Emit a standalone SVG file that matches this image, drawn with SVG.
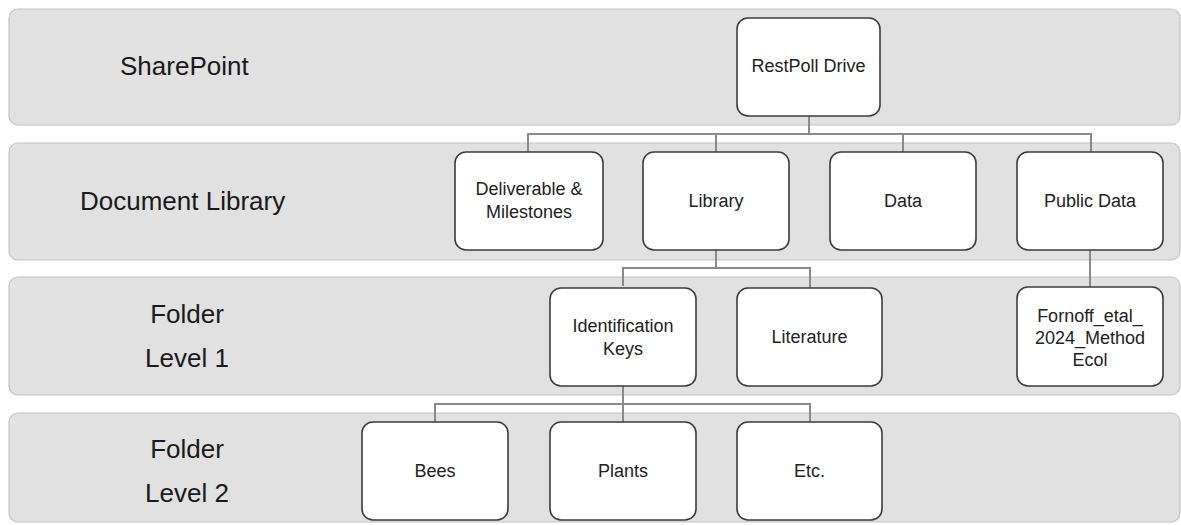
<svg xmlns="http://www.w3.org/2000/svg" width="1181" height="525" viewBox="0 0 1181 525">
<style>
.band{fill:#e1e1e1;stroke:#c4c4c4;stroke-width:1.2}
.node{fill:#ffffff;stroke:#3c3c3c;stroke-width:1.6}
.lbl{font-family:"Liberation Sans",Arial,sans-serif;font-size:26px;fill:#1a1a1a}
.txt{font-family:"Liberation Sans",Arial,sans-serif;font-size:18px;fill:#222;text-anchor:middle}
.conn{fill:none;stroke:#8a8a8a;stroke-width:2}
</style>
<rect width="1181" height="525" fill="#ffffff"/>
<g id="bands">
<g id="band-sharepoint"><rect class="band" x="9" y="9" width="1171" height="116" rx="9"/><text class="lbl" x="120" y="75">SharePoint</text></g>
<g id="band-doclib"><rect class="band" x="9" y="143" width="1171" height="117" rx="9"/><text class="lbl" x="80" y="210">Document Library</text></g>
<g id="band-folder1"><rect class="band" x="9" y="277" width="1171" height="118" rx="9"/><text class="lbl" x="187" y="323" text-anchor="middle">Folder</text><text class="lbl" x="187" y="367" text-anchor="middle">Level 1</text></g>
<g id="band-folder2"><rect class="band" x="9" y="413" width="1171" height="109" rx="9"/><text class="lbl" x="187" y="458" text-anchor="middle">Folder</text><text class="lbl" x="187" y="502" text-anchor="middle">Level 2</text></g>
</g>
<g id="connectors">
<path class="conn" d="M809 116V134M528 152V134H1091V152M716 134V152M903 134V152"/>
<path class="conn" d="M716 250V268M623 286V268H810V288"/>
<path class="conn" d="M1090 250V287"/>
<path class="conn" d="M623 386V404M435 422V404H810V422M623 404V422"/>
</g>
<g id="restpoll"><rect class="node" x="737" y="18" width="143" height="98" rx="11"/><text class="txt" x="808.5" y="72">RestPoll Drive</text></g>
<g id="deliverable"><rect class="node" x="455" y="152" width="148" height="98" rx="11"/><text class="txt" x="529" y="195">Deliverable &amp;</text><text class="txt" x="529" y="218">Milestones</text></g>
<g id="library"><rect class="node" x="643" y="152" width="146" height="98" rx="11"/><text class="txt" x="716" y="207">Library</text></g>
<g id="data"><rect class="node" x="830" y="152" width="146" height="98" rx="11"/><text class="txt" x="903" y="207">Data</text></g>
<g id="publicdata"><rect class="node" x="1017" y="152" width="146" height="98" rx="11"/><text class="txt" x="1090" y="207">Public Data</text></g>
<g id="idkeys"><rect class="node" x="550" y="288" width="146" height="98" rx="11"/><text class="txt" x="623" y="332">Identification</text><text class="txt" x="623" y="355">Keys</text></g>
<g id="literature"><rect class="node" x="737" y="288" width="145" height="98" rx="11"/><text class="txt" x="809.5" y="343">Literature</text></g>
<g id="fornoff"><rect class="node" x="1017" y="287" width="146" height="99" rx="11"/><text class="txt" x="1090" y="322">Fornoff_etal_</text><text class="txt" x="1090" y="344">2024_Method</text><text class="txt" x="1090" y="366">Ecol</text></g>
<g id="bees"><rect class="node" x="362" y="422" width="146" height="98" rx="11"/><text class="txt" x="435" y="477">Bees</text></g>
<g id="plants"><rect class="node" x="550" y="422" width="146" height="98" rx="11"/><text class="txt" x="623" y="477">Plants</text></g>
<g id="etc"><rect class="node" x="737" y="422" width="145" height="98" rx="11"/><text class="txt" x="809.5" y="477">Etc.</text></g>
</svg>
